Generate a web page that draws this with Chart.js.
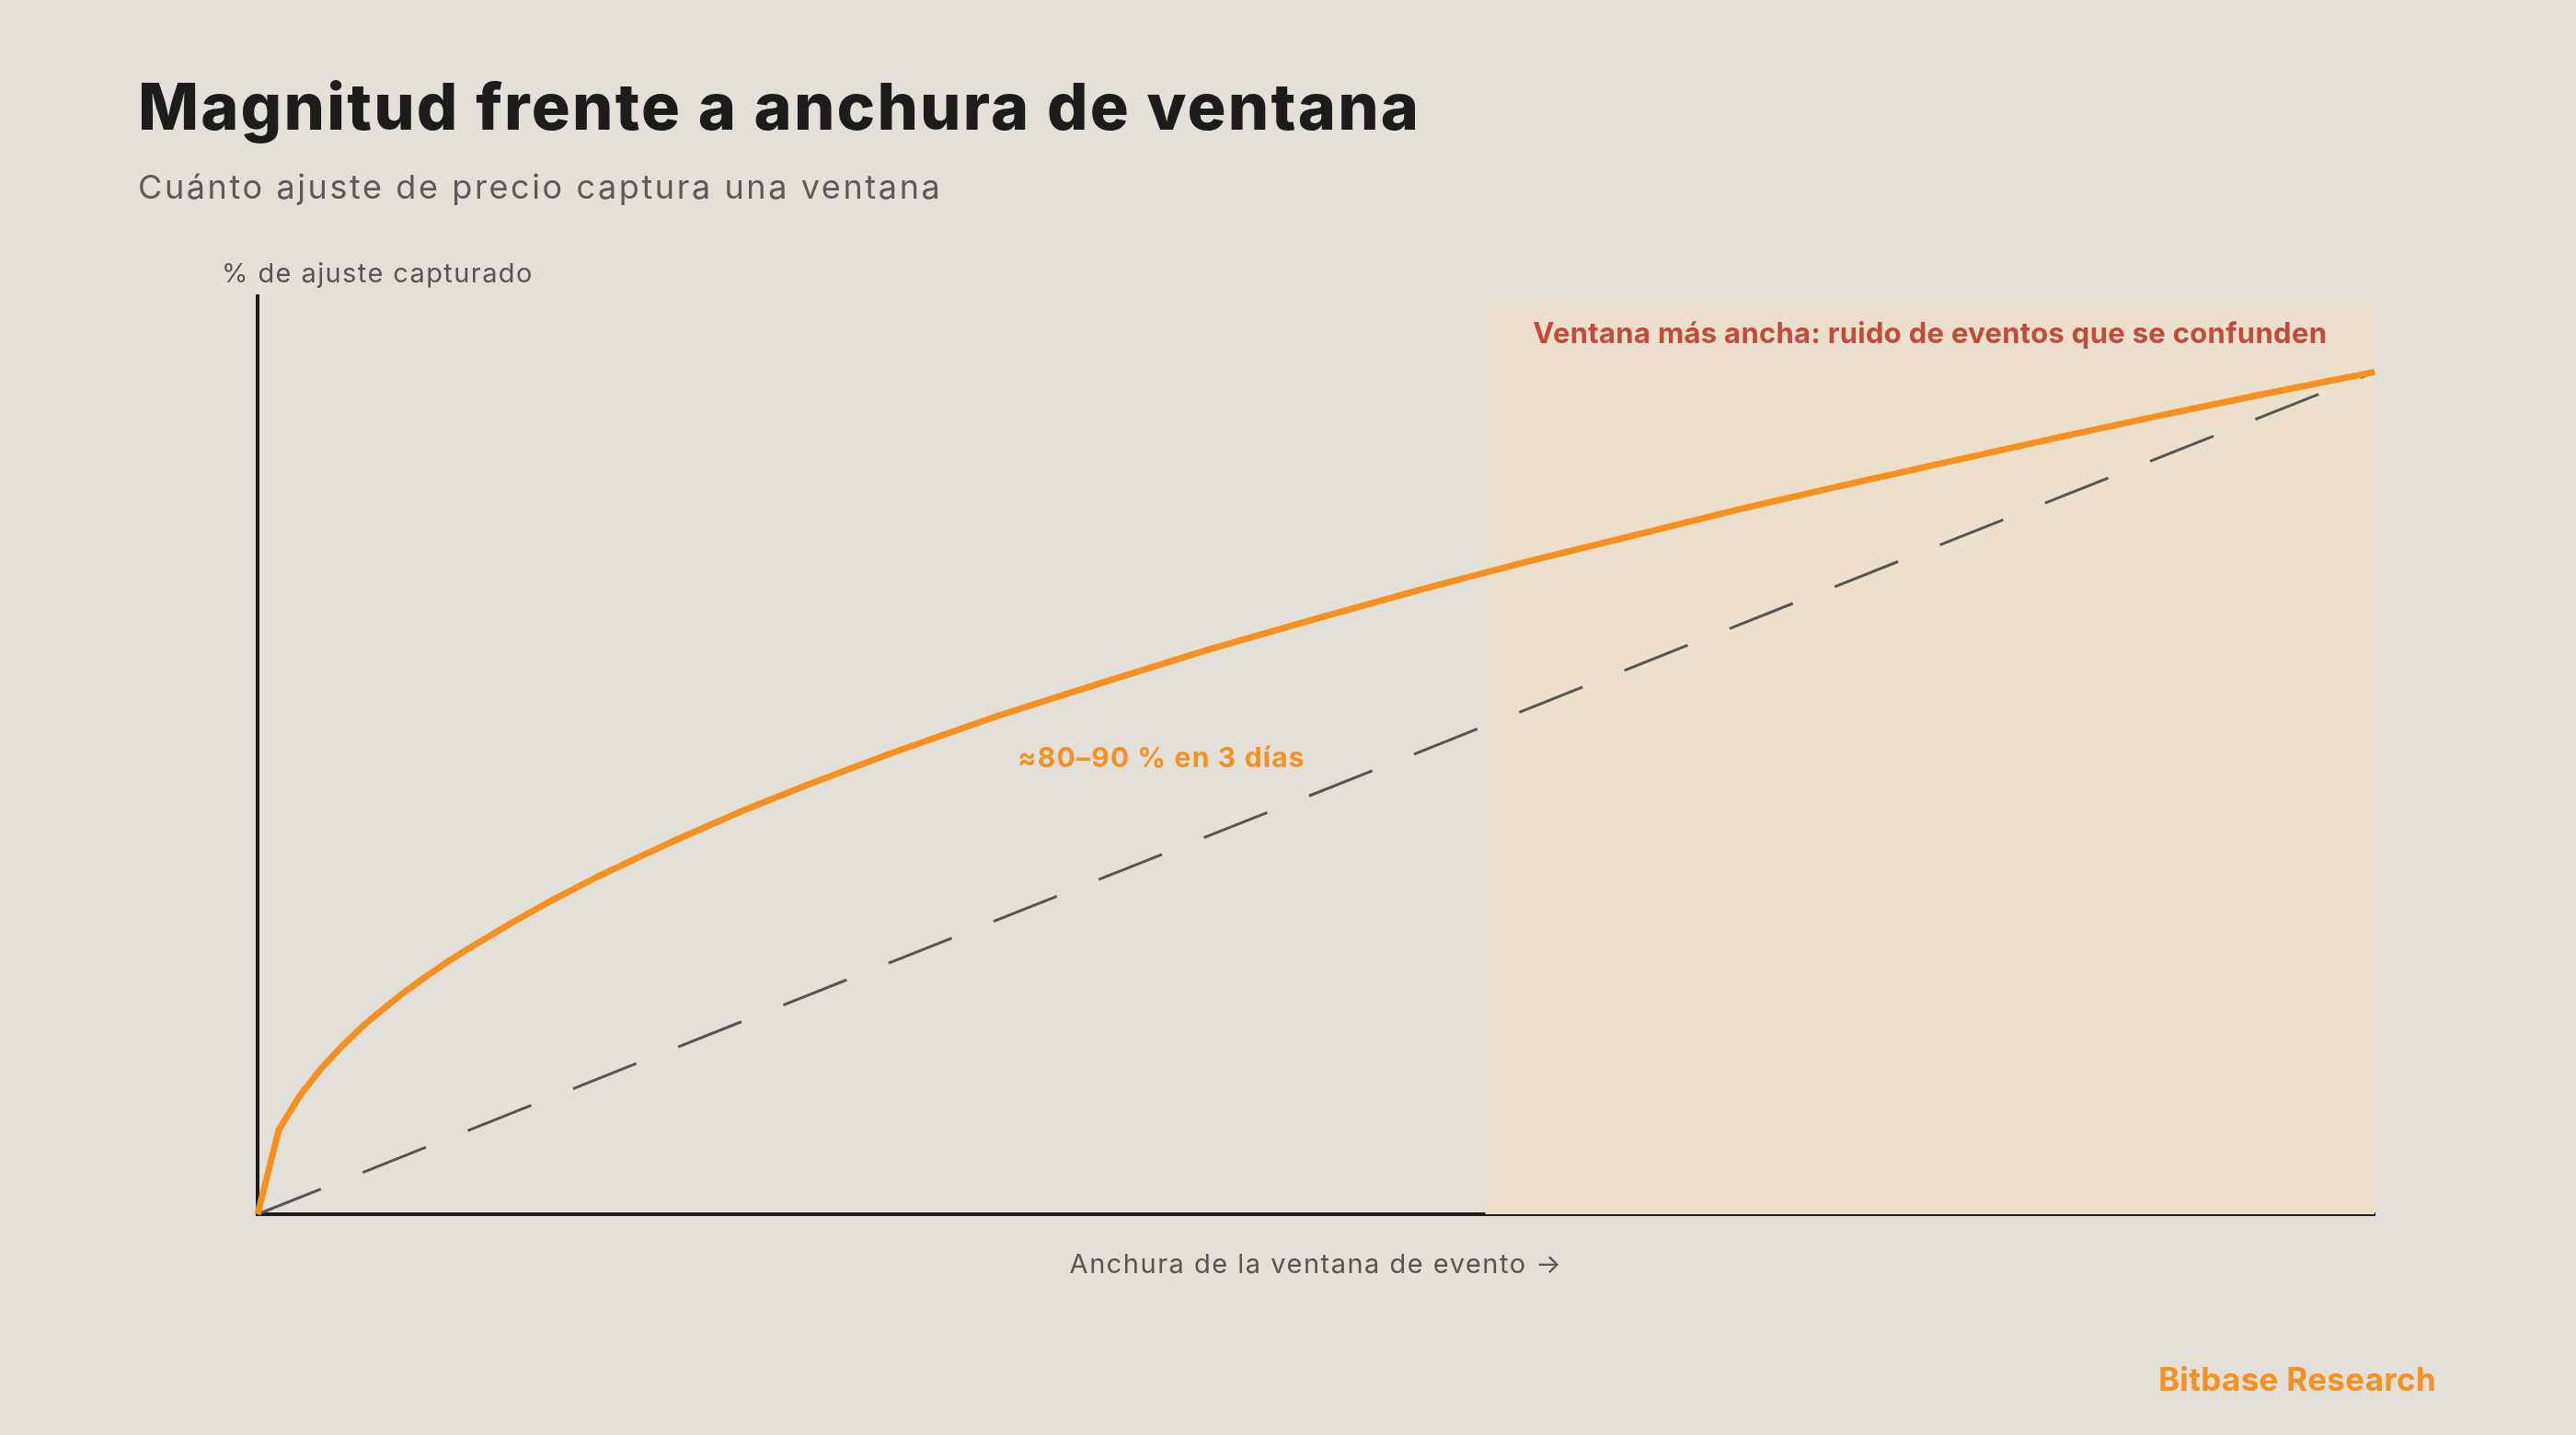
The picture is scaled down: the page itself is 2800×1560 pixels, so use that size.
<!DOCTYPE html>
<html>
<head>
<meta charset="utf-8">
<script src="https://cdn.jsdelivr.net/npm/chart.js@4.4.1/dist/chart.umd.min.js"></script>
<style>
  html, body { margin: 0; padding: 0; background: #e3dfd9; }
  #grafico { display: block; }
</style>
</head>
<body>
<canvas id="grafico" width="2800" height="1560" style="width:2800px;height:1560px"></canvas>
<script>
// datos (anchura de ventana normalizada 0..1)
const anchura = [0, 0.01, 0.02, 0.03, 0.04, 0.05, 0.06, 0.07, 0.08, 0.09, 0.10, 0.12, 0.14, 0.16, 0.18, 0.20,
  0.23, 0.26, 0.30, 0.35, 0.40, 0.45, 0.50, 0.55, 0.60, 0.65, 0.70, 0.75, 0.80, 0.85, 0.90, 0.95, 1.00];
const capturado = [0, 0.100, 0.141, 0.173, 0.200, 0.224, 0.245, 0.265, 0.283, 0.300, 0.316, 0.346, 0.374, 0.400, 0.424, 0.447,
  0.480, 0.510, 0.548, 0.592, 0.632, 0.671, 0.707, 0.742, 0.775, 0.806, 0.837, 0.866, 0.894, 0.922, 0.949, 0.975, 1.000];
// referencia lineal (discontinua)
const anchuraLineal = [0, 1];
const capturadoLineal = [0, 1];
// zona sombreada y anotaciones
const bandaDesde = 0.58;
const notaTexto = '≈80–90 % en 3 días';
const notaPos = [0.427, 0.541];
const bandaTexto = 'Ventana más ancha: ruido de eventos que se confunden';

const FUENTE = 'Inter, "Noto Sans", sans-serif';

const puntos = (xs, ys) => xs.map((x, i) => ({ x: x, y: ys[i] }));

function texto(ctx, str, x, y, font, color, align, espacio) {
  ctx.font = font;
  ctx.fillStyle = color;
  ctx.textAlign = align;
  ctx.letterSpacing = espacio + 'px';
  ctx.fillText(str, x, y);
}

// plugin para banda y textos
const decoracion = {
  id: 'decoracion',
  beforeDatasetsDraw(chart) {
    const { ctx, chartArea, scales } = chart;
    const x0 = scales.x.getPixelForValue(bandaDesde);
    const x1 = scales.x.getPixelForValue(scales.x.max);
    ctx.save();
    ctx.fillStyle = '#ecdfcb';
    ctx.fillRect(x0, chartArea.top, x1 - x0, chartArea.bottom - chartArea.top);
    ctx.restore();
  },
  afterDraw(chart) {
    const { ctx, chartArea, scales } = chart;
    ctx.save();
    ctx.textBaseline = 'alphabetic';

    // título y subtítulo
    texto(ctx, 'Magnitud frente a anchura de ventana', 150, 141, '800 70px ' + FUENTE, '#1c1c1c', 'left', 2.2);
    texto(ctx, 'Cuánto ajuste de precio captura una ventana', 150, 216, '400 36px ' + FUENTE, '#5a5a5a', 'left', 2.6);

    // títulos de ejes
    texto(ctx, '% de ajuste capturado', 241, 307, '400 29px ' + FUENTE, '#555555', 'left', 1.4);
    texto(ctx, 'Anchura de la ventana de evento →', (chartArea.left + chartArea.right) / 2, 1384,
      '400 29px ' + FUENTE, '#555555', 'center', 1.5);

    // anotación de la curva
    ctx.textBaseline = 'middle';
    texto(ctx, notaTexto, scales.x.getPixelForValue(notaPos[0]), scales.y.getPixelForValue(notaPos[1]),
      '700 30px ' + FUENTE, '#f7901e', 'center', 1.2);

    // texto de la banda
    const xb0 = scales.x.getPixelForValue(bandaDesde);
    const xb1 = scales.x.getPixelForValue(scales.x.max);
    ctx.textBaseline = 'alphabetic';
    texto(ctx, bandaTexto, (xb0 + xb1) / 2, chartArea.top + 51, '700 31px ' + FUENTE, '#c44a3a', 'center', 0.3);

    // firma
    texto(ctx, 'Bitbase Research', 2648, 1512, '700 35px ' + FUENTE, '#f7901e', 'right', 0.3);
    ctx.restore();
  }
};

new Chart(document.getElementById('grafico').getContext('2d'), {
  type: 'line',
  data: {
    datasets: [
      {
        label: 'Ajuste capturado',
        data: puntos(anchura, capturado),
        borderColor: '#f7901e',
        borderWidth: 7,
        pointRadius: 0,
        tension: 0,
        borderJoinStyle: 'round',
        clip: false,
        order: 0
      },
      {
        label: 'Lineal',
        data: puntos(anchuraLineal, capturadoLineal),
        borderColor: '#555555',
        borderWidth: 3,
        borderDash: [74, 49],
        pointRadius: 0,
        clip: false,
        order: 1
      }
    ]
  },
  options: {
    responsive: false,
    devicePixelRatio: 1,
    animation: false,
    layout: { padding: { left: 280, right: 219, top: 322, bottom: 240 } },
    plugins: { legend: { display: false }, tooltip: { enabled: false } },
    scales: {
      x: {
        type: 'linear', min: 0, max: 1,
        ticks: { display: false },
        grid: { display: false, drawTicks: false },
        border: { display: true, color: '#1c1c1c', width: 4 }
      },
      y: {
        min: 0, max: 1.09,
        ticks: { display: false },
        grid: { display: false, drawTicks: false },
        border: { display: true, color: '#1c1c1c', width: 4 }
      }
    }
  },
  plugins: [decoracion]
});
</script>
</body>
</html>
